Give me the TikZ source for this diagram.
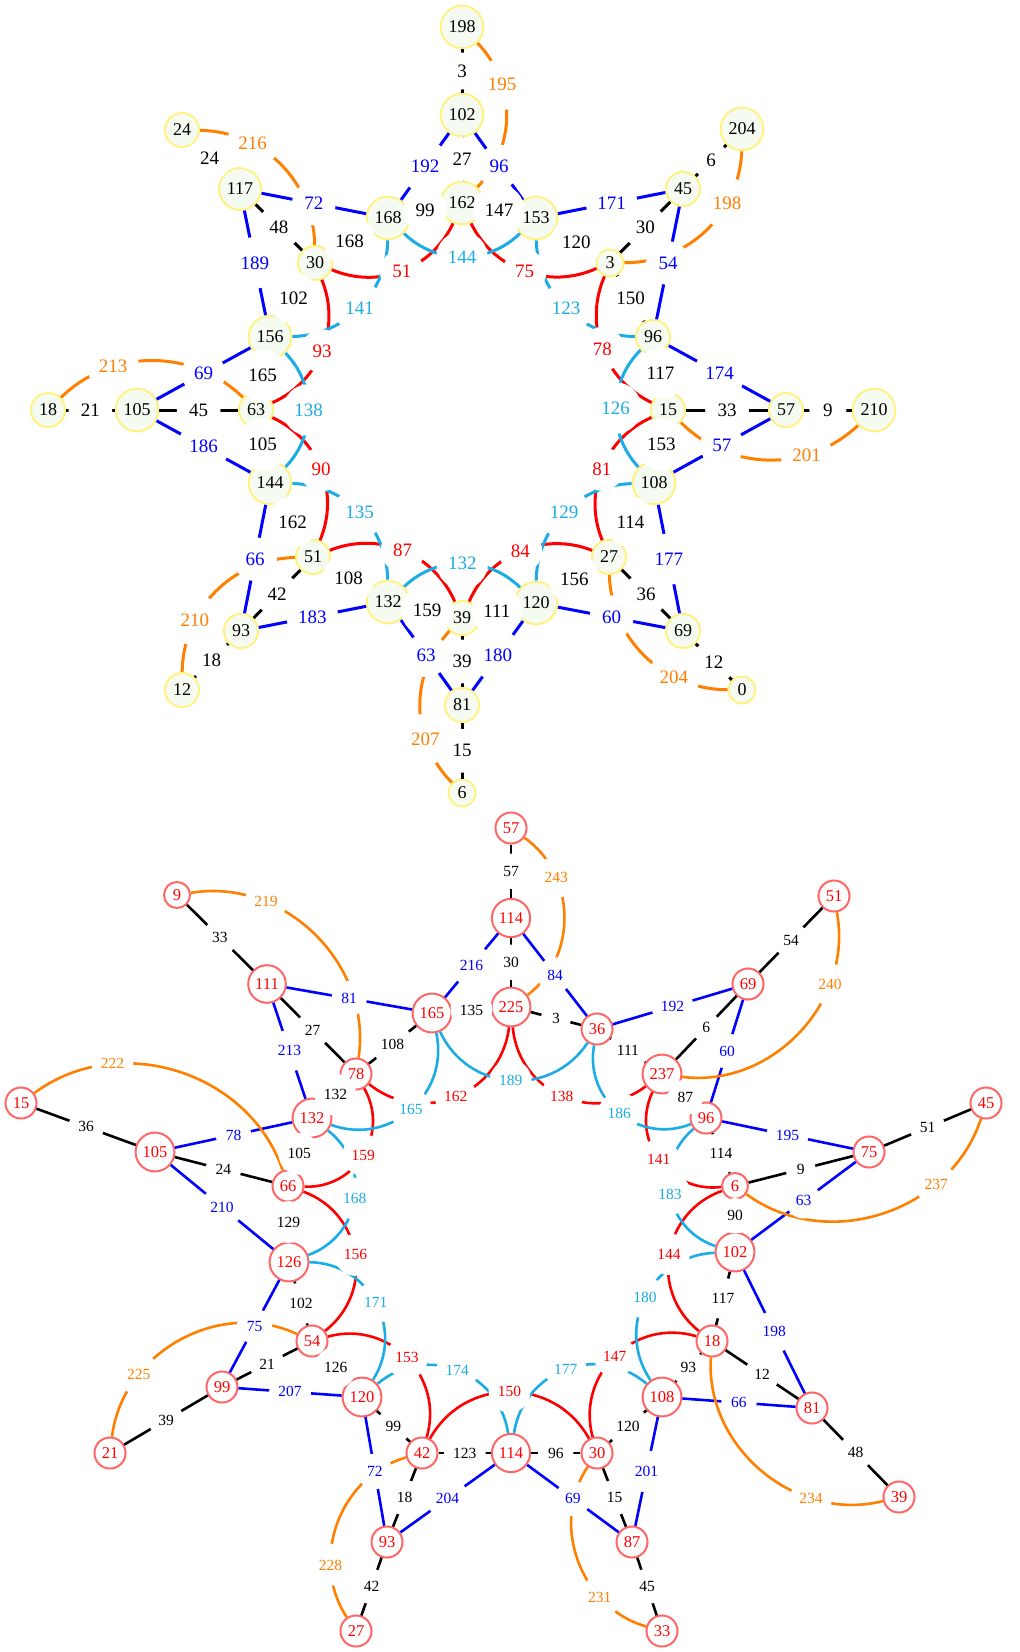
\documentclass[tikz,border=0pt]{standalone}
\usepackage{fontspec}
\setmainfont{Liberation Serif}
\definecolor{cblue}{RGB}{0,0,255}
\definecolor{ccyan}{RGB}{27,172,230}
\definecolor{cred}{RGB}{255,0,0}
\definecolor{corange}{RGB}{255,128,0}
\definecolor{tfill}{RGB}{246,251,242}
\definecolor{tdraw}{RGB}{255,242,130}
\definecolor{bdraw}{RGB}{255,102,102}
\tikzset{
 tn/.style={circle, draw=tdraw, fill=tfill, line width=2pt, inner xsep=7pt, inner ysep=0pt, minimum size=27pt, font=\fontsize{18}{18}\selectfont},
 bn/.style={circle, draw=bdraw, fill=white, line width=2pt, text=red, inner xsep=6.3pt, inner ysep=0pt, minimum size=26pt, font=\fontsize{16.5}{16.5}\selectfont},
 tl/.style={circle, fill=white, inner sep=7.5pt, font=\fontsize{19}{19}\selectfont},
 bl/.style={circle, fill=white, inner sep=6pt, font=\fontsize{15.5}{15.5}\selectfont},
 lbl/.style={},
 etk/.style={color=black, line width=3pt},
 etb/.style={color=cblue, line width=3pt},
 etr/.style={color=cred, line width=3pt, bend right=44},
 etc/.style={color=ccyan, line width=3pt, bend right=44},
 eto/.style={color=corange, line width=3pt, bend left=44},
 ebk/.style={color=black, line width=2.6pt},
 ebb/.style={color=cblue, line width=2.6pt},
 ebr/.style={color=cred, line width=2.6pt, bend right=61, looseness=1.15},
 ebc/.style={color=ccyan, line width=2.6pt, bend right=61, looseness=1.15},
 ebo/.style={color=corange, line width=2.6pt, bend left=54, looseness=1.03},
}
\def\myE#1#2#3#4#5{}
\newcommand\topedges{%
 \myE{t198}{t102}{etk}{3}{.5}
 \myE{t102}{t162}{etk}{27}{.5}
 \myE{t24}{t117}{etk}{24}{.5}
 \myE{t117}{t30}{etk}{48}{.5}
 \myE{t45}{t204}{etk}{6}{.5}
 \myE{t45}{t3}{etk}{30}{.5}
 \myE{t57}{t210}{etk}{9}{.5}
 \myE{t57}{t15}{etk}{33}{.5}
 \myE{t69}{t0}{etk}{12}{.5}
 \myE{t69}{t27}{etk}{36}{.5}
 \myE{t81}{t6}{etk}{15}{.5}
 \myE{t81}{t39}{etk}{39}{.5}
 \myE{t93}{t12}{etk}{18}{.5}
 \myE{t93}{t51}{etk}{42}{.5}
 \myE{t105}{t18}{etk}{21}{.5}
 \myE{t105}{t63}{etk}{45}{.5}
 \myE{t168}{t162}{etk}{99}{.5}
 \myE{t162}{t153}{etk}{147}{.5}
 \myE{t153}{t3}{etk}{120}{.5}
 \myE{t3}{t96}{etk}{150}{.5}
 \myE{t96}{t15}{etk}{117}{.5}
 \myE{t15}{t108}{etk}{153}{.5}
 \myE{t108}{t27}{etk}{114}{.5}
 \myE{t27}{t120}{etk}{156}{.5}
 \myE{t120}{t39}{etk}{111}{.5}
 \myE{t39}{t132}{etk}{159}{.5}
 \myE{t132}{t51}{etk}{108}{.5}
 \myE{t51}{t144}{etk}{162}{.5}
 \myE{t144}{t63}{etk}{105}{.5}
 \myE{t63}{t156}{etk}{165}{.5}
 \myE{t156}{t30}{etk}{102}{.5}
 \myE{t30}{t168}{etk}{168}{.5}
 \myE{t102}{t168}{etb}{192}{.5}
 \myE{t102}{t153}{etb}{96}{.5}
 \myE{t117}{t168}{etb}{72}{.5}
 \myE{t117}{t156}{etb}{189}{.5}
 \myE{t45}{t153}{etb}{171}{.5}
 \myE{t45}{t96}{etb}{54}{.5}
 \myE{t57}{t96}{etb}{174}{.5}
 \myE{t57}{t108}{etb}{57}{.5}
 \myE{t69}{t108}{etb}{177}{.5}
 \myE{t69}{t120}{etb}{60}{.5}
 \myE{t81}{t120}{etb}{180}{.5}
 \myE{t81}{t132}{etb}{63}{.5}
 \myE{t93}{t132}{etb}{183}{.5}
 \myE{t93}{t144}{etb}{66}{.5}
 \myE{t105}{t144}{etb}{186}{.5}
 \myE{t105}{t156}{etb}{69}{.5}
 \myE{t30}{t162}{etr}{51}{.5}
 \myE{t162}{t3}{etr}{75}{.5}
 \myE{t3}{t15}{etr}{78}{.5}
 \myE{t15}{t27}{etr}{81}{.5}
 \myE{t27}{t39}{etr}{84}{.5}
 \myE{t39}{t51}{etr}{87}{.5}
 \myE{t51}{t63}{etr}{90}{.5}
 \myE{t63}{t30}{etr}{93}{.5}
 \myE{t168}{t153}{etc}{144}{.5}
 \myE{t153}{t96}{etc}{123}{.5}
 \myE{t96}{t108}{etc}{126}{.5}
 \myE{t108}{t120}{etc}{129}{.5}
 \myE{t120}{t132}{etc}{132}{.5}
 \myE{t132}{t144}{etc}{135}{.5}
 \myE{t144}{t156}{etc}{138}{.5}
 \myE{t156}{t168}{etc}{141}{.5}
 \myE{t198}{t162}{eto}{195}{.3}
 \myE{t204}{t3}{eto}{198}{.3}
 \myE{t210}{t15}{eto}{201}{.3}
 \myE{t0}{t27}{eto}{204}{.3}
 \myE{t6}{t39}{eto}{207}{.3}
 \myE{t12}{t51}{eto}{210}{.3}
 \myE{t18}{t63}{eto}{213}{.3}
 \myE{t24}{t30}{eto}{216}{.3}
}
\newcommand\botedges{%
 \myE{b57}{bU114}{ebk}{57}{.5}
 \myE{bU114}{b225}{ebk}{30}{.5}
 \myE{b225}{b36}{ebk}{3}{.5}
 \myE{b36}{b237}{ebk}{111}{.5}
 \myE{b237}{b69}{ebk}{6}{.5}
 \myE{b69}{b51}{ebk}{54}{.5}
 \myE{b237}{b96}{ebk}{87}{.5}
 \myE{b96}{b6}{ebk}{114}{.5}
 \myE{b6}{b75}{ebk}{9}{.5}
 \myE{b75}{b45}{ebk}{51}{.5}
 \myE{b6}{b102}{ebk}{90}{.5}
 \myE{b102}{b18}{ebk}{117}{.5}
 \myE{b18}{b81}{ebk}{12}{.5}
 \myE{b81}{b39}{ebk}{48}{.5}
 \myE{b18}{b108}{ebk}{93}{.5}
 \myE{b108}{b30}{ebk}{120}{.5}
 \myE{b30}{bL114}{ebk}{96}{.5}
 \myE{b30}{b87}{ebk}{15}{.5}
 \myE{b87}{b33}{ebk}{45}{.5}
 \myE{bL114}{b42}{ebk}{123}{.5}
 \myE{b42}{b120}{ebk}{99}{.5}
 \myE{b42}{b93}{ebk}{18}{.5}
 \myE{b93}{b27}{ebk}{42}{.5}
 \myE{b120}{b54}{ebk}{126}{.5}
 \myE{b54}{b99}{ebk}{21}{.5}
 \myE{b99}{b21}{ebk}{39}{.5}
 \myE{b54}{b126}{ebk}{102}{.5}
 \myE{b126}{b66}{ebk}{129}{.5}
 \myE{b66}{b105}{ebk}{24}{.5}
 \myE{b105}{b15}{ebk}{36}{.5}
 \myE{b66}{b132}{ebk}{105}{.5}
 \myE{b132}{b78}{ebk}{132}{.5}
 \myE{b78}{b111}{ebk}{27}{.5}
 \myE{b111}{b9}{ebk}{33}{.5}
 \myE{b78}{b165}{ebk}{108}{.5}
 \myE{b165}{b225}{ebk}{135}{.5}
 \myE{bU114}{b165}{ebb}{216}{.5}
 \myE{bU114}{b36}{ebb}{84}{.5}
 \myE{b36}{b69}{ebb}{192}{.5}
 \myE{b69}{b96}{ebb}{60}{.5}
 \myE{b96}{b75}{ebb}{195}{.5}
 \myE{b75}{b102}{ebb}{63}{.5}
 \myE{b102}{b81}{ebb}{198}{.5}
 \myE{b81}{b108}{ebb}{66}{.5}
 \myE{b108}{b87}{ebb}{201}{.5}
 \myE{b87}{bL114}{ebb}{69}{.5}
 \myE{bL114}{b93}{ebb}{204}{.5}
 \myE{b93}{b120}{ebb}{72}{.5}
 \myE{b120}{b99}{ebb}{207}{.5}
 \myE{b99}{b126}{ebb}{75}{.5}
 \myE{b126}{b105}{ebb}{210}{.5}
 \myE{b105}{b132}{ebb}{78}{.5}
 \myE{b132}{b111}{ebb}{213}{.5}
 \myE{b111}{b165}{ebb}{81}{.5}
 \myE{b225}{b237}{ebr}{138}{.5}
 \myE{b237}{b6}{ebr}{141}{.5}
 \myE{b6}{b18}{ebr}{144}{.5}
 \myE{b18}{b30}{ebr}{147}{.5}
 \myE{b30}{b42}{ebr}{150}{.5}
 \myE{b42}{b54}{ebr}{153}{.5}
 \myE{b54}{b66}{ebr}{156}{.5}
 \myE{b66}{b78}{ebr}{159}{.5}
 \myE{b78}{b225}{ebr}{162}{.5}
 \myE{b165}{b36}{ebc}{189}{.5}
 \myE{b36}{b96}{ebc}{186}{.5}
 \myE{b96}{b102}{ebc}{183}{.5}
 \myE{b102}{b108}{ebc}{180}{.5}
 \myE{b108}{bL114}{ebc}{177}{.5}
 \myE{bL114}{b120}{ebc}{174}{.5}
 \myE{b120}{b126}{ebc}{171}{.5}
 \myE{b126}{b132}{ebc}{168}{.5}
 \myE{b132}{b165}{ebc}{165}{.5}
 \myE{b57}{b225}{ebo}{243}{.28}
 \myE{b51}{b237}{ebo}{240}{.28}
 \myE{b45}{b6}{ebo}{237}{.28}
 \myE{b39}{b18}{ebo}{234}{.28}
 \myE{b33}{b30}{ebo}{231}{.28}
 \myE{b27}{b42}{ebo}{228}{.28}
 \myE{b21}{b54}{ebo}{225}{.28}
 \myE{b15}{b66}{ebo}{222}{.28}
 \myE{b9}{b78}{ebo}{219}{.28}
}
\begin{document}
\begin{tikzpicture}[x=1pt,y=1pt]
\useasboundingbox (0,0) rectangle (1020,-1652);
% top graph nodes
\node[tn] (t198) at (462,-27) {198};
\node[tn] (t102) at (462,-115) {102};
\node[tn] (t162) at (462,-203) {162};
\node[tn] (t168) at (388,-218) {168};
\node[tn] (t153) at (536,-218) {153};
\node[tn] (t24) at (182,-130) {24};
\node[tn] (t117) at (240,-189) {117};
\node[tn] (t30) at (315,-263) {30};
\node[tn] (t204) at (742,-129) {204};
\node[tn] (t45) at (683,-189) {45};
\node[tn] (t3) at (610,-263) {3};
\node[tn] (t156) at (270,-337) {156};
\node[tn] (t63) at (256,-410) {63};
\node[tn] (t105) at (137,-410) {105};
\node[tn] (t18) at (48,-410) {18};
\node[tn] (t96) at (653,-337) {96};
\node[tn] (t15) at (668,-410) {15};
\node[tn] (t57) at (786,-410) {57};
\node[tn] (t210) at (874,-410) {210};
\node[tn] (t144) at (270,-483) {144};
\node[tn] (t51) at (313,-557) {51};
\node[tn] (t93) at (241,-631) {93};
\node[tn] (t12) at (182,-690) {12};
\node[tn] (t108) at (654,-483) {108};
\node[tn] (t27) at (609,-557) {27};
\node[tn] (t69) at (683,-631) {69};
\node[tn] (t0) at (742,-690) {0};
\node[tn] (t132) at (388,-602) {132};
\node[tn] (t39) at (462,-618) {39};
\node[tn] (t120) at (536,-603) {120};
\node[tn] (t81) at (462,-705) {81};
\node[tn] (t6) at (462,-793) {6};
% bottom graph nodes
\node[bn] (b57) at (511,-828) {57};
\node[bn] (bU114) at (511,-918) {114};
\node[bn] (b225) at (511,-1007) {225};
\node[bn] (b9) at (177,-895) {9};
\node[bn] (b111) at (267,-984) {111};
\node[bn] (b165) at (432,-1013) {165};
\node[bn] (b78) at (356,-1074) {78};
\node[bn] (b15) at (21,-1103) {15};
\node[bn] (b132) at (312,-1118) {132};
\node[bn] (b36) at (597,-1029) {36};
\node[bn] (b69) at (748,-984) {69};
\node[bn] (b51) at (834,-896) {51};
\node[bn] (b237) at (662,-1074) {237};
\node[bn] (b96) at (706,-1118) {96};
\node[bn] (b45) at (986,-1103) {45};
\node[bn] (b75) at (869,-1152) {75};
\node[bn] (b6) at (735,-1186) {6};
\node[bn] (b102) at (735,-1252) {102};
\node[bn] (b18) at (712,-1341) {18};
\node[bn] (b108) at (662,-1397) {108};
\node[bn] (b81) at (812,-1408) {81};
\node[bn] (b39) at (899,-1497) {39};
\node[bn] (b30) at (597,-1453) {30};
\node[bn] (bL114) at (511,-1453) {114};
\node[bn] (b87) at (632,-1542) {87};
\node[bn] (b33) at (662,-1631) {33};
\node[bn] (b105) at (155,-1152) {105};
\node[bn] (b66) at (288,-1186) {66};
\node[bn] (b126) at (289,-1262) {126};
\node[bn] (b54) at (312,-1341) {54};
\node[bn] (b99) at (222,-1387) {99};
\node[bn] (b21) at (110,-1453) {21};
\node[bn] (b120) at (362,-1397) {120};
\node[bn] (b42) at (422,-1453) {42};
\node[bn] (b93) at (387,-1542) {93};
\node[bn] (b27) at (356,-1631) {27};
% edges
\def\myE#1#2#3#4#5{\draw[#3] (#1) to (#2);}
\topedges
\botedges
% labels
\def\myE#1#2#3#4#5{\path[#3] (#1) to node[lbl,pos=#5]{#4} (#2);}
\tikzset{lbl/.style={tl}}
\topedges
\tikzset{lbl/.style={bl}}
\botedges
\end{tikzpicture}
\end{document}
